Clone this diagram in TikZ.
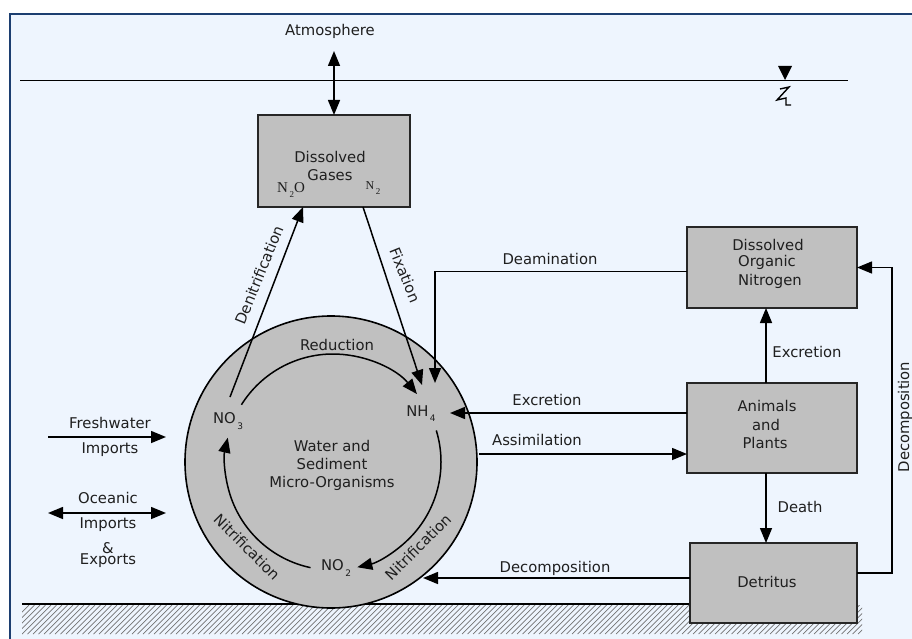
\documentclass[tikz,border=0pt]{standalone}
\usepackage{fontspec}
\setmainfont{DejaVu Sans}
\newfontfamily\serifN{Liberation Serif}
\usetikzlibrary{arrows.meta}
\definecolor{bgblue}{HTML}{EEF5FE}
\definecolor{frameblue}{HTML}{1C3E70}
\definecolor{boxgray}{HTML}{C0C0C0}
\newcommand{\lowsub}[1]{\raisebox{-0.35em}{\fontsize{9}{9}\selectfont\,#1}}
\begin{document}
\begin{tikzpicture}[x=1pt,y=-1pt,
  font=\fontsize{14.8}{17}\selectfont,
  lbl/.style={inner sep=0pt, text=black!88},
  box/.style={draw=black!85, line width=1.6pt, fill=boxgray, inner sep=0pt, outer sep=0pt},
  arr/.style={line width=1.5pt, -{Triangle[length=15pt,width=12pt]}},
  darr/.style={line width=1.5pt, {Triangle[length=15pt,width=12pt]}-{Triangle[length=15pt,width=12pt]}}]
\useasboundingbox (0,0) rectangle (912,639);
\fill[white] (0,0) rectangle (912,639);
\fill[bgblue] (10,14) rectangle (912,639);
\draw[frameblue, line width=2.2pt] (10,639) -- (10,14) -- (912,14);

% ground hatch
\begin{scope}
  \clip (22,605) rectangle (862,634);
  \foreach \i in {0,...,160} {
    \draw[black!55, line width=0.7pt] ({\i*5.5},634) -- ({\i*5.5+29},605);
  }
\end{scope}
\draw[line width=1.6pt] (22,604) -- (848,604);

% water surface
\draw[line width=1pt] (20,81) -- (848,81);
\fill (778,66) -- (792,66) -- (785,80) -- cycle;
\draw[line width=1.4pt] (780,89) -- (789,87) -- (777,100) -- (786,98) -- (786,105) -- (791,105);

% main shapes
\node[circle, draw, line width=1.6pt, fill=boxgray, minimum size=292pt, inner sep=0pt] (circ) at (331,462) {};
\node[box, minimum width=152pt, minimum height=92pt] (gases) at (334,161) {};
\node[box, minimum width=170pt, minimum height=81pt] (don) at (772,267.5) {};
\node[box, minimum width=170pt, minimum height=90pt] (anim) at (772,428) {};
\node[box, minimum width=167pt, minimum height=80pt] (detr) at (773.5,583) {};

% box texts
\node[lbl] (tg1) at (330,157) {Dissolved};
\node[lbl] (tg2) at (330,175) {Gases};
\node[lbl, font=\serifN\fontsize{15}{15}\selectfont] (n2o) at (291,190) {N\lowsub{2}O};
\node[lbl, font=\serifN\fontsize{12}{12}\selectfont] (n2) at (373,188) {N\lowsub{2}};
\node[lbl] (td1) at (768,245) {Dissolved};
\node[lbl] (td2) at (767,262) {Organic};
\node[lbl] (td3) at (770,281) {Nitrogen};
\node[lbl] (ta1) at (767,406) {Animals};
\node[lbl] (ta2) at (766,425) {and};
\node[lbl] (ta3) at (765,443) {Plants};
\node[lbl] (tdet) at (767,582) {Detritus};

% circle texts
\node[lbl] (tw1) at (332,446) {Water and};
\node[lbl] (tw2) at (332,464) {Sediment};
\node[lbl] (tw3) at (332,483) {Micro-Organisms};
\node[lbl] (no3) at (228,421) {NO\lowsub{3}};
\node[lbl] (nh4) at (421,414) {NH\lowsub{4}};
\node[lbl] (no2) at (336,568) {NO\lowsub{2}};
\node[lbl] (tred) at (337,345) {Reduction};
\node[lbl, rotate=-45] (tnl) at (247,547) {Nitrification};
\node[lbl, rotate=45] (tnr) at (418,547) {Nitrification};

% inner cycle arcs
\coordinate (C) at (333,462);
\draw[arr] ([shift={(-148:108)}]C) arc[start angle=-148, end angle=-39, radius=108];
\draw[arr] ([shift={(-17:108)}]C) arc[start angle=-17, end angle=77, radius=108];
\draw[arr] ([shift={(102:108)}]C) arc[start angle=102, end angle=193, radius=108];

% atmosphere exchange
\node[lbl] (atm) at (330,31) {Atmosphere};
\coordinate (atmA) at (334,51);
\draw[darr] (atmA) -- (gases.north);

% denitrification / fixation
\coordinate (denS) at (230,397);
\draw[arr] (denS) -- (303,0 |- gases.south);
\node[lbl, rotate=68] (tden) at (259,275) {Denitrification};
\coordinate (fixE) at (422,385);
\draw[arr] (363,0 |- gases.south) -- (fixE);
\node[lbl, rotate=-68] (tfix) at (405,275) {Fixation};

% deamination
\coordinate (deamE) at (435,383);
\draw[arr] ([yshift=-4pt]don.west) -| (deamE);
\node[lbl] (tdeam) at (550,259) {Deamination};

% excretion / assimilation
\coordinate (exE) at (450,413);
\draw[arr] (anim.west |- exE) -- (exE);
\node[lbl] (texc) at (547,400) {Excretion};
\coordinate (asS) at (479,454);
\draw[arr] (asS) -- (anim.west |- asS);
\node[lbl] (tass) at (537,440) {Assimilation};

\coordinate (vx) at (766,0);
\draw[arr] (anim.north -| vx) -- (don.south -| vx);
\node[lbl] (texc2) at (807,352) {Excretion};
\draw[arr] (anim.south -| vx) -- (detr.north -| vx);
\node[lbl] (tdeath) at (800,507) {Death};

\draw[arr] ([yshift=10pt]detr.east) -- ++(35,0) |- (don.east);
\node[lbl, rotate=90] (tdec2) at (905,417) {Decomposition};
\coordinate (decE) at (423,578);
\draw[arr] (detr.west |- decE) -- (decE);
\node[lbl] (tdec) at (555,568) {Decomposition};

% imports / exports
\coordinate (fwA) at (48,437);
\coordinate (fwB) at (166,437);
\draw[arr] (fwA) -- (fwB);
\node[lbl] (tfw1) at (110,423) {Freshwater};
\node[lbl] (tfw2) at (110,450) {Imports};
\coordinate (ocA) at (48,513);
\coordinate (ocB) at (166,513);
\draw[darr] (ocA) -- (ocB);
\node[lbl] (toc1) at (108,498) {Oceanic};
\node[lbl] (toc2) at (108,525) {Imports};
\node[lbl] (toc3) at (108,548) {\&};
\node[lbl] (toc4) at (108,561) {Exports};
\end{tikzpicture}
\end{document}
